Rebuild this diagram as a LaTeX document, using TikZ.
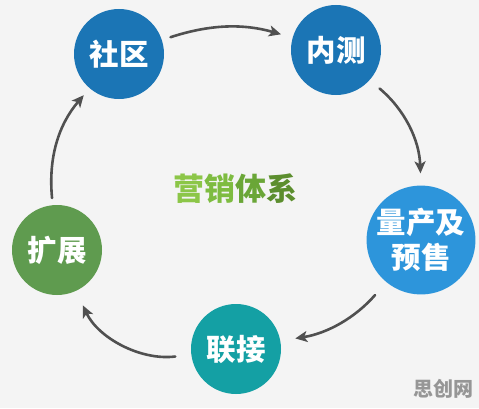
\documentclass[tikz,border=0pt]{standalone}
\usepackage{fontspec}
\newfontfamily\cjk{Noto Sans CJK SC}
\usetikzlibrary{arrows.meta}

\definecolor{paper}{RGB}{244,244,244}
\definecolor{darkblue}{RGB}{27,117,181}
\definecolor{lightblue}{RGB}{45,149,219}
\definecolor{leaf}{RGB}{95,155,79}
\definecolor{teal}{RGB}{20,160,164}
\definecolor{arrowgray}{RGB}{80,80,80}
\definecolor{markgray}{RGB}{150,150,150}

\begin{document}
\begin{tikzpicture}[x=1pt, y=1pt,
    stage/.style={circle, minimum size=90pt, inner sep=0pt, text=white,
        font=\cjk\bfseries\fontsize{29.5}{35}\selectfont, align=center},
    flow/.style={line width=2.6pt, draw=arrowgray, line cap=round,
        -{Stealth[length=12pt, width=11pt, inset=3pt]}}]

    % background
    \fill[paper] (0,0) rectangle (479,408);
    \useasboundingbox (0,0) rectangle (479,408);

    % the five stages
    \node[stage, fill=darkblue]  (shequ)   at (119,354) {社区};
    \node[stage, fill=darkblue]  (neice)   at (336,358) {内测};
    \node[stage, fill=lightblue] (liangchan) at (421,168) {量产及\\预售};
    \node[stage, fill=teal]      (lianjie) at (236,59)  {联接};
    \node[stage, fill=leaf]      (kuozhan) at (57,158)  {扩展};

    % cycle
    \draw[flow, shorten <=9pt, shorten >=12pt] (shequ) to[bend left=17] (neice);
    \draw[flow, shorten <=13pt, shorten >=12pt] (neice) to[bend left=24] (liangchan);
    \draw[flow, shorten <=17pt, shorten >=15pt] (liangchan) to[bend left=20] (lianjie);
    \draw[flow, shorten <=16pt, shorten >=16pt] (lianjie) to[bend left=36] (kuozhan);
    \draw[flow, shorten <=7pt, shorten >=9pt] (kuozhan) to[bend left=23] (shequ);

    \node[font=\cjk\bfseries\fontsize{31}{36}\selectfont] (title) at (235,219)
        {\textcolor[RGB]{140,198,72}{营}\textcolor[RGB]{126,188,64}{销}\textcolor[RGB]{106,166,55}{体}\textcolor[RGB]{92,142,46}{系}};

    \node[font=\cjk\bfseries\fontsize{20}{24}\selectfont, text=markgray] (mark) at (443,19) {思创网};
\end{tikzpicture}
\end{document}
